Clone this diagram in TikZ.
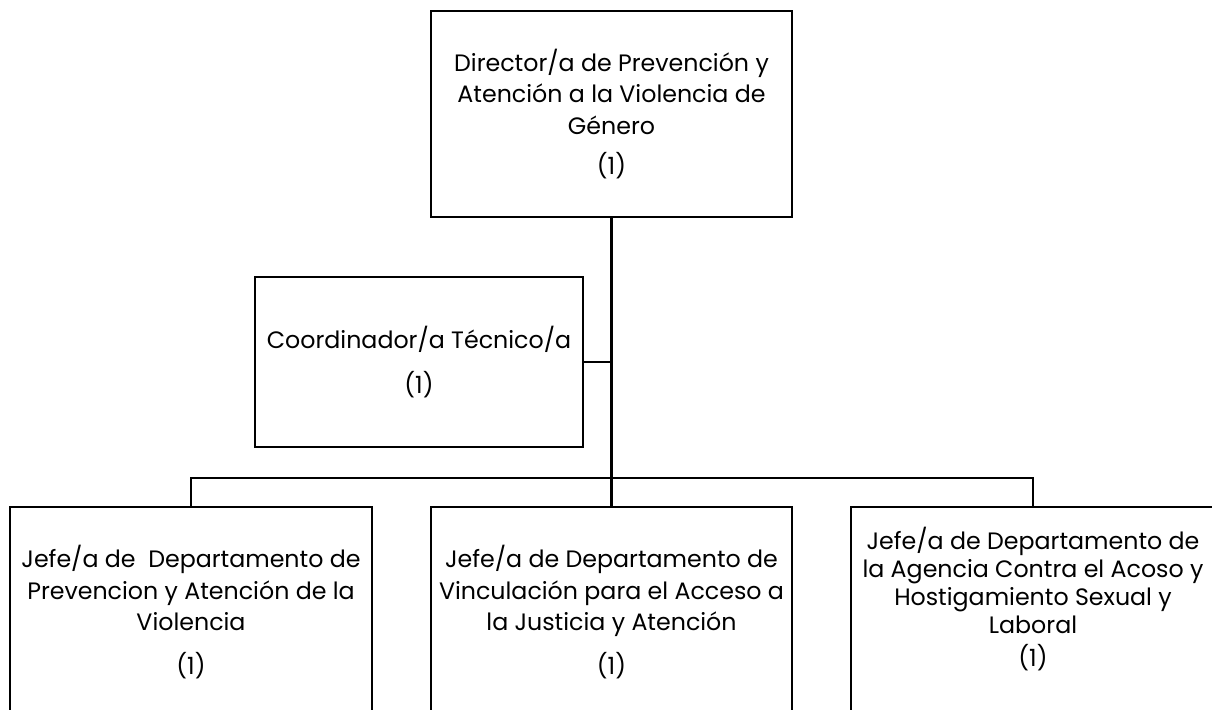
\documentclass[tikz,border=0pt]{standalone}
\usepackage{fontspec}
\setmainfont{Poppins}
\usetikzlibrary{positioning}

\begin{document}
\begin{tikzpicture}[x=0.02cm,y=-0.02cm,
  puesto/.style={draw=black,line width=1.5pt,align=center,inner sep=0pt,
    font=\fontsize{13.5}{17.8}\selectfont},
  enlace/.style={draw=black,line width=1.5pt}]
	\useasboundingbox (0,0) rectangle (1212,709);
	%% director
	\node[puesto,minimum width=7.22cm,minimum height=4.12cm] (dir) at (611.5,114)
	  {Director/a de Prevención y\\Atención a la Violencia de\\Género\\[5pt](1)};
	%% coordinacion
	\node[puesto,minimum width=6.56cm,minimum height=3.4cm] (coord) at (419,362)
	  {Coordinador/a Técnico/a\\[8pt](1)};
	%% jefaturas
	\node[puesto,minimum width=7.24cm,minimum height=4.2cm] (jefeA) at (191,612)
	  {Jefe/a de~ Departamento de\\Prevencion y Atención de la\\Violencia\\[7pt](1)};
	\node[puesto,minimum width=7.22cm,minimum height=4.2cm] (jefeB) at (611.5,612)
	  {Jefe/a de Departamento de\\Vinculación para el Acceso a\\la Justicia y Atención\\[7pt](1)};
	\node[puesto,minimum width=7.28cm,minimum height=4.2cm,align=none] (jefeC) at (1033,612)
	  {\parbox[c]{7.2cm}{\centering\fontsize{13.5}{15.9}\selectfont
	    Jefe/a de Departamento de\\la Agencia Contra el Acoso y\\Hostigamiento Sexual y\\Laboral\\[3pt](1)\par\vspace{0.52cm}}};
	%% lineas
	\coordinate (bus) at (611.5,478);
	\draw[enlace] (dir.south) -- (jefeB.north);
	\draw[enlace] (coord.east) -- (coord.east -| dir.south);
	\draw[enlace] (jefeA.north) |- (bus) -| (jefeC.north);
\end{tikzpicture}
\end{document}
